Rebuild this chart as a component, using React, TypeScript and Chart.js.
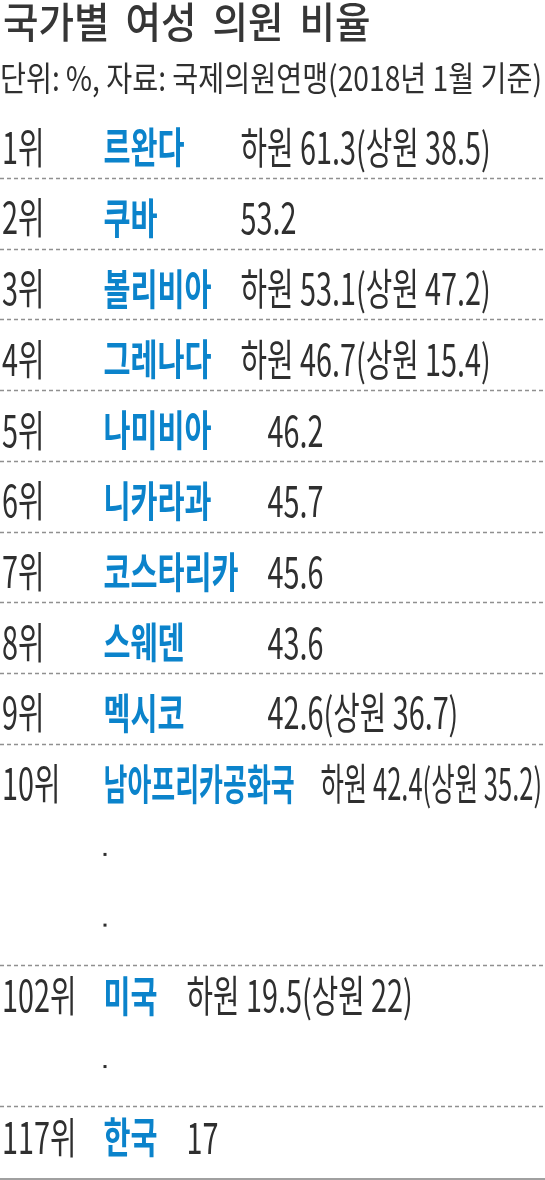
import React, { useEffect, useRef } from "react";
import { Chart, registerables } from "chart.js";

Chart.register(...registerables);

// 순위 (빈 칸은 '…' 생략 줄)
const ranks = ["1위", "2위", "3위", "4위", "5위", "6위", "7위", "8위", "9위", "10위", "", "", "102위", "", "117위"];
const countries = [
  "르완다", "쿠바", "볼리비아", "그레나다", "나미비아", "니카라과", "코스타리카",
  "스웨덴", "멕시코", "남아프리카공화국", "", "", "미국", "", "한국",
];
// 하원 여성 의원 비율 (%)
const lowerHouse = [61.3, 53.2, 53.1, 46.7, 46.2, 45.7, 45.6, 43.6, 42.6, 42.4, null, null, 19.5, null, 17];
// 상원 여성 의원 비율 (%)
const upperHouse = [38.5, null, 47.2, 15.4, null, null, null, null, 36.7, 35.2, null, null, 22, null, null];
// 값 앞에 "하원"을 붙이는 줄
const showLowerLabel = [true, false, true, true, false, false, false, false, false, true, false, false, true, false, false];
// 값 열을 함께 맞추는 줄 묶음 (0 = 생략 줄)
const alignGroup = [1, 1, 1, 1, 2, 2, 2, 2, 2, 3, 0, 0, 4, 0, 5];

const TITLE = "국가별 여성 의원 비율";
const SUBTITLE = "단위: %, 자료: 국제의원연맹(2018년 1월 기준)";

const FONT = '"Noto Sans CJK KR", "Noto Sans", sans-serif';
const TEXT_COLOR = "#2f2f2f";
const NAME_COLOR = "#0b83cb";
const RULE_COLOR = "#909090";

const RANK_X = 2;
const NAME_X = 103.5;
const VALUE_GAP = 29;

const formatValue = (i: number) => {
  const low = lowerHouse[i];
  if (low == null) return "";
  const up = upperHouse[i];
  return `${showLowerLabel[i] ? "하원 " : ""}${low}${up != null ? `(상원 ${up})` : ""}`;
};

// 가로로 눌러 쓴 글자
const drawScaled = (ctx: CanvasRenderingContext2D, text: string, x: number, y: number, sx: number) => {
  ctx.save();
  ctx.translate(x, y);
  ctx.scale(sx, 1);
  ctx.fillText(text, 0, 0);
  ctx.restore();
};

const tablePlugin = {
  id: "rankTable",
  afterDraw(chart: any) {
    const { ctx, chartArea } = chart;
    const yScale = chart.scales.y;
    const right = chartArea.right;
    ctx.save();
    ctx.textBaseline = "middle";
    ctx.textAlign = "left";

    // 제목
    ctx.fillStyle = "#363636";
    ctx.font = `500 42px ${FONT}`;
    const titleSx = 35.5 / ctx.measureText("국").width;
    if ("wordSpacing" in ctx) (ctx as any).wordSpacing = "8px";
    drawScaled(ctx, TITLE, 3, 22, titleSx);
    if ("wordSpacing" in ctx) (ctx as any).wordSpacing = "0px";

    // 부제
    ctx.fillStyle = TEXT_COLOR;
    ctx.font = `400 34px ${FONT}`;
    const subSx = 542 / ctx.measureText(SUBTITLE).width;
    drawScaled(ctx, SUBTITLE, 0, 78, subSx);

    // 줄별 글자 폭
    const grayFont = `400 43px ${FONT}`;
    const nameFont = `700 42px ${FONT}`;
    ctx.font = grayFont;
    const graySx = 26.5 / ctx.measureText("국").width;
    ctx.font = nameFont;
    const nameSx = 27 / ctx.measureText("국").width;

    const nameW = countries.map((c) => {
      ctx.font = nameFont;
      return ctx.measureText(c).width * nameSx;
    });
    const valueW = lowerHouse.map((_, i) => {
      ctx.font = grayFont;
      return ctx.measureText(formatValue(i)).width * graySx;
    });
    const groupX: Record<number, number> = {};
    alignGroup.forEach((g, i) => {
      if (!g) return;
      const end = NAME_X + nameW[i] + VALUE_GAP;
      groupX[g] = Math.max(groupX[g] ?? 0, end);
    });

    ranks.forEach((rank, i) => {
      const py = yScale.getPixelForValue(i);
      if (!rank) {
        ctx.fillStyle = TEXT_COLOR;
        ctx.fillRect(NAME_X, py - 1.5, 3, 3);
        return;
      }
      ctx.fillStyle = TEXT_COLOR;
      ctx.font = grayFont;
      drawScaled(ctx, rank, RANK_X, py, graySx);

      let vx = groupX[alignGroup[i]];
      let f = 1;
      if (vx + valueW[i] > right - 3) {
        f = (right - 3 - NAME_X) / (nameW[i] + VALUE_GAP + valueW[i]);
        vx = NAME_X + (nameW[i] + VALUE_GAP) * f;
      }
      ctx.fillStyle = NAME_COLOR;
      ctx.font = nameFont;
      drawScaled(ctx, countries[i], NAME_X, py, nameSx * f);

      ctx.fillStyle = TEXT_COLOR;
      ctx.font = grayFont;
      drawScaled(ctx, formatValue(i), vx, py, graySx * f);
    });

    // 구분선
    ctx.strokeStyle = RULE_COLOR;
    ctx.lineWidth = 1.3;
    ctx.setLineDash([4, 3]);
    for (let j = 1; j < ranks.length; j++) {
      if (!ranks[j]) continue;
      const above = ranks[j - 1] ? 40 : 31;
      const ly = Math.round(yScale.getPixelForValue(j) - above) + 0.5;
      ctx.beginPath();
      ctx.moveTo(chartArea.left, ly);
      ctx.lineTo(right, ly);
      ctx.stroke();
    }
    ctx.setLineDash([]);
    ctx.lineWidth = 2;
    ctx.strokeStyle = "#a0a0a0";
    const by = chartArea.bottom + 6.5;
    ctx.beginPath();
    ctx.moveTo(chartArea.left, by);
    ctx.lineTo(right, by);
    ctx.stroke();
    ctx.restore();
  },
};

const RankTable: React.FC = () => {
  const canvasRef = useRef<HTMLCanvasElement>(null);
  const chartRef = useRef<Chart | null>(null);

  useEffect(() => {
    document.body.style.margin = "0";
    if (!canvasRef.current) return;
    if (chartRef.current) chartRef.current.destroy();

    chartRef.current = new Chart(canvasRef.current, {
      type: "bar",
      data: {
        labels: ranks,
        datasets: [
          {
            label: "하원",
            data: lowerHouse as any,
            backgroundColor: "rgba(0,0,0,0)",
            borderWidth: 0,
          },
        ],
      },
      options: {
        indexAxis: "y",
        animation: false,
        responsive: true,
        maintainAspectRatio: false,
        events: [],
        layout: { padding: { top: 112, bottom: 7.4, left: 0, right: 0 } },
        scales: {
          x: { type: "linear", min: 0, max: 70, display: false },
          y: { type: "category", offset: true, display: false },
        },
        plugins: {
          legend: { display: false },
          tooltip: { enabled: false },
          title: { display: false },
        },
      },
      plugins: [tablePlugin],
    });

    return () => {
      if (chartRef.current) {
        chartRef.current.destroy();
        chartRef.current = null;
      }
    };
  }, []);

  return (
    <div style={{ position: "relative", width: 545, height: 1180, background: "#fff" }}>
      <canvas ref={canvasRef} />
    </div>
  );
};

export default function App() {
  return <RankTable />;
}
